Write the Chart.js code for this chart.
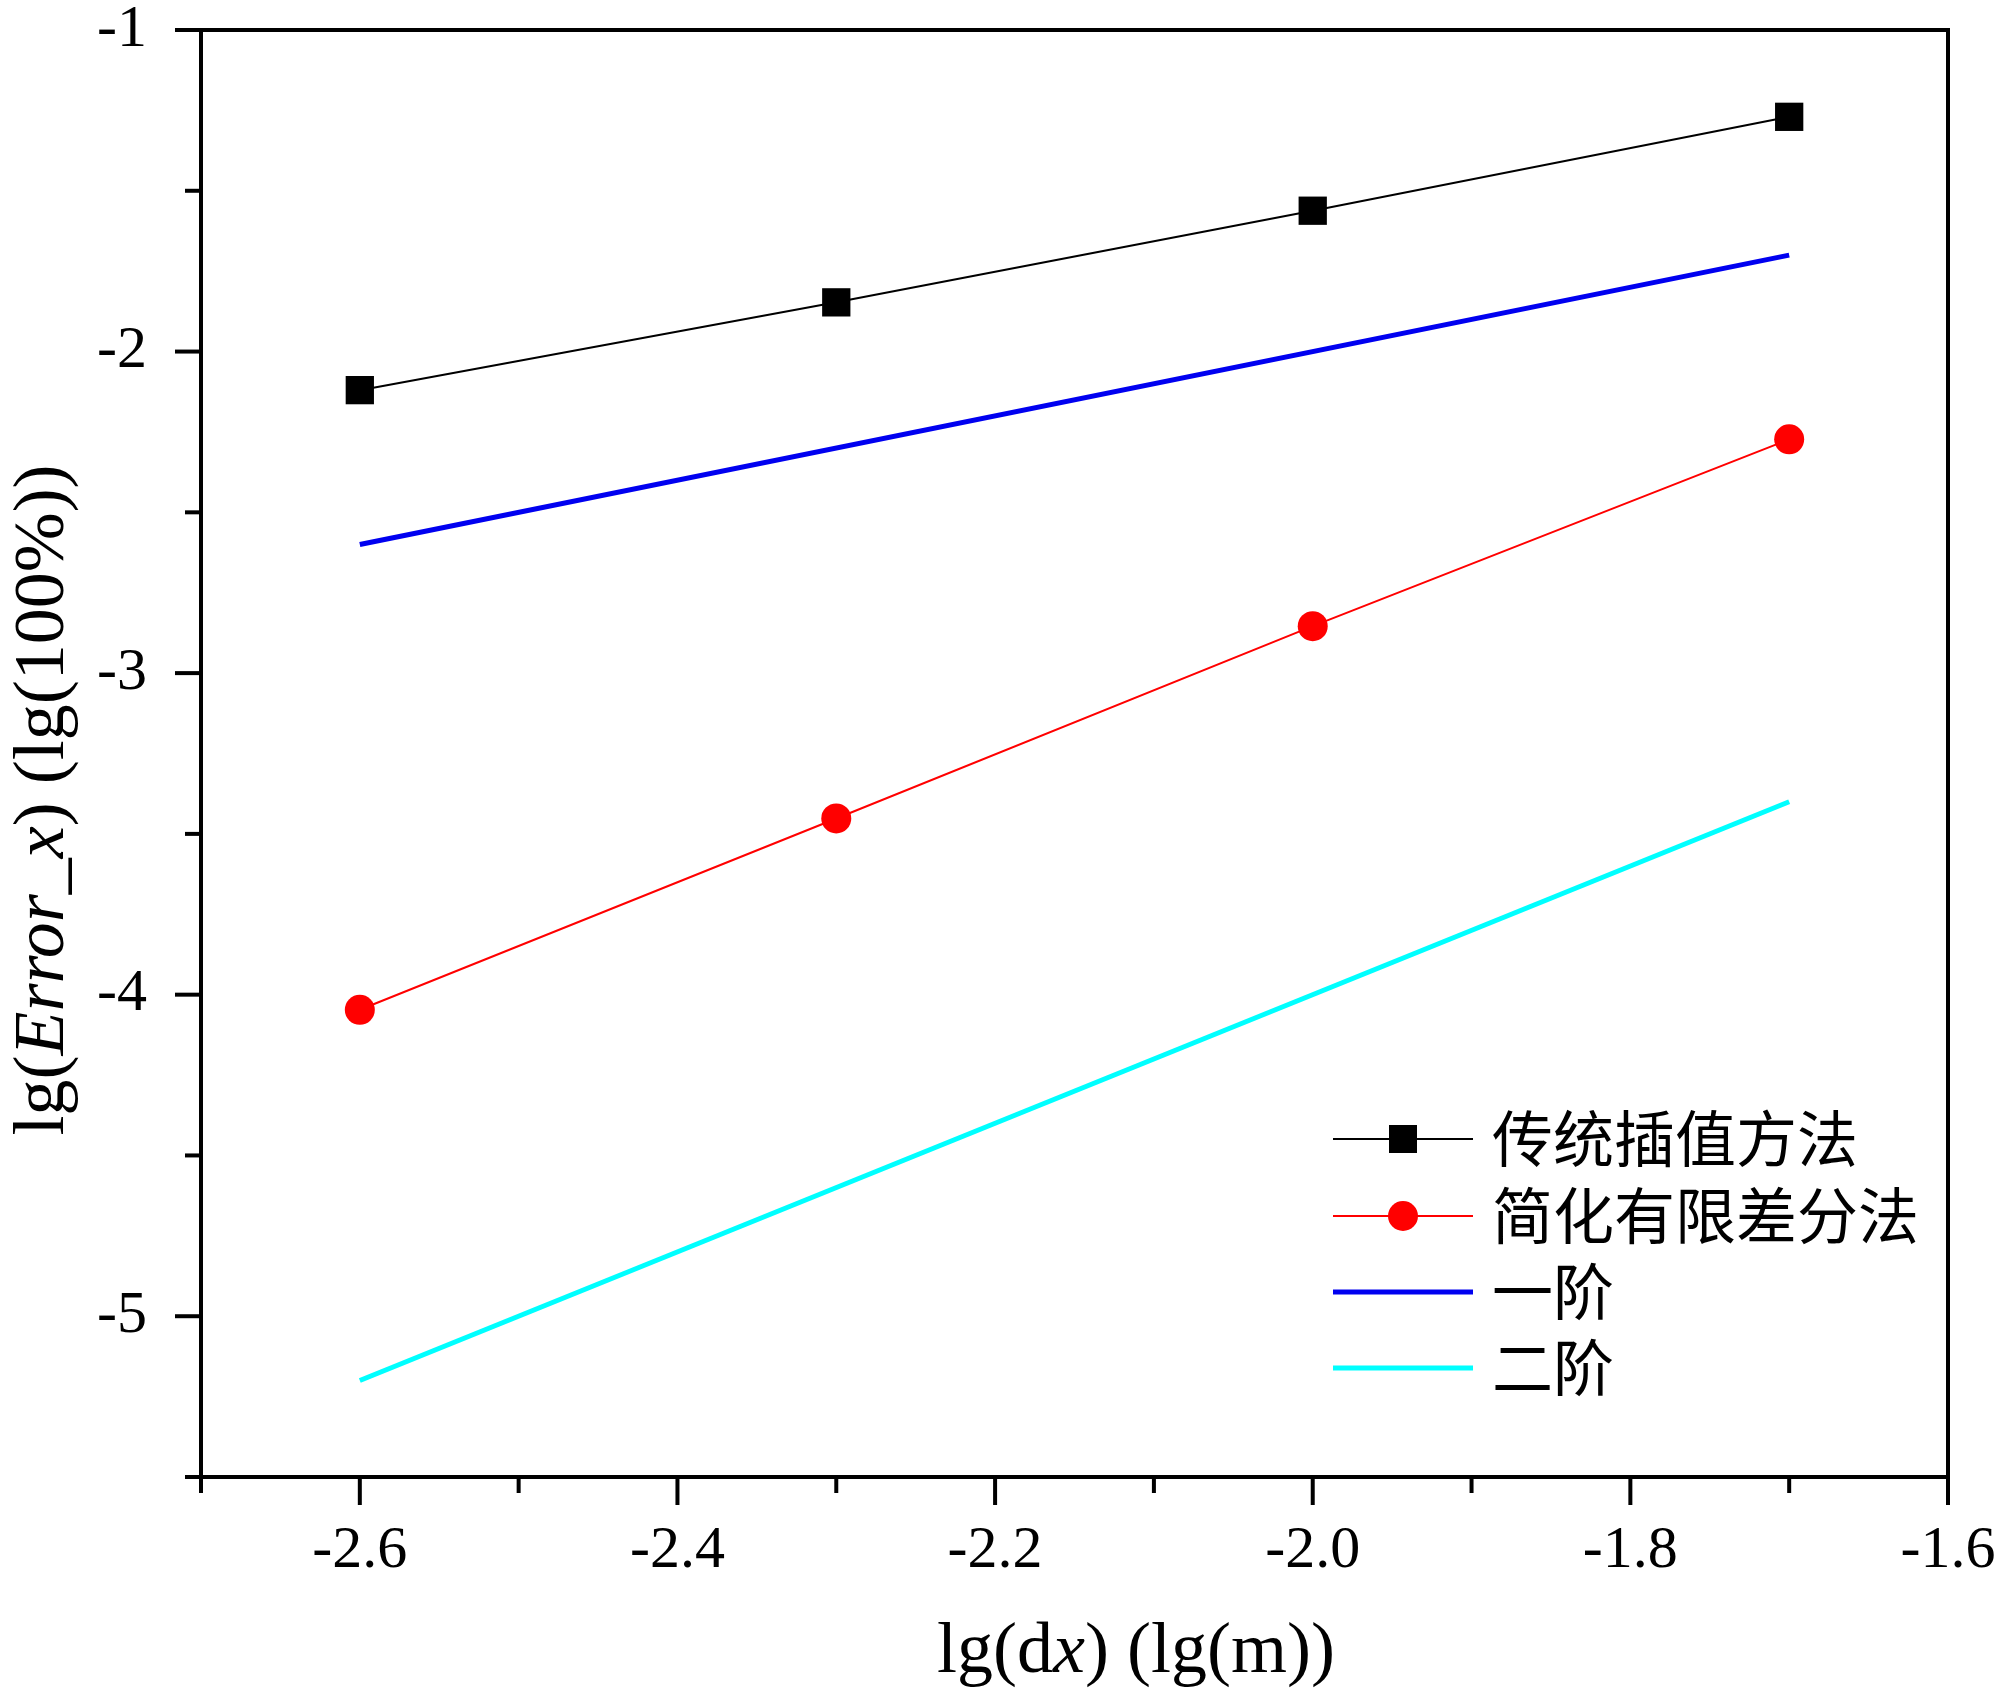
<!DOCTYPE html>
<html>
<head>
<meta charset="utf-8">
<script src="https://cdn.jsdelivr.net/npm/chart.js@4.4.1/dist/chart.umd.min.js"></script>
<style>
  html, body { margin: 0; padding: 0; background: #fff; }
  #wrap { width: 2000px; height: 1693px; }
</style>
</head>
<body>
<div id="wrap"><canvas id="c" width="2000" height="1693"></canvas></div>
<script>
// lg(dx) 取值
const xPoints = [-2.6, -2.3, -2.0, -1.7];
// 传统插值方法 / 简化有限差分法
const traditional = [-2.12, -1.847, -1.562, -1.27];
const simplifiedFD = [-4.047, -3.452, -2.854, -2.273];
// 参考斜率线 (一阶 / 二阶)
const refX = [-2.6, -1.7];
const firstOrder = [-2.6, -1.7];
const secondOrder = [-5.2, -3.4];

const legendLabels = ['传统插值方法', '简化有限差分法', '一阶', '二阶'];

const SERIF = '"Liberation Serif", "Times New Roman", serif';
const CJK = '"Noto Sans CJK SC", sans-serif';

const pts = (xs, ys) => xs.map((x, i) => ({x, y: ys[i]}));

// 不让刻度标签额外挤压绘图区
function noPad(s) {
  s.paddingTop = 0; s.paddingBottom = 0; s.paddingLeft = 0; s.paddingRight = 0;
}

// 外框 + 刻度线（主刻度长、次刻度短）
const frameTicks = {
  id: 'frameTicks',
  afterDraw(chart) {
    const {ctx, chartArea: a, scales: {x, y}} = chart;
    ctx.save();
    ctx.strokeStyle = '#000';
    ctx.lineWidth = 4;
    ctx.lineCap = 'square';
    ctx.strokeRect(a.left, a.top, a.right - a.left, a.bottom - a.top);
    x.ticks.forEach(t => {
      const px = x.getPixelForValue(t.value);
      const major = Math.round(t.value * 10) % 2 === 0;
      ctx.beginPath();
      ctx.moveTo(px, a.bottom);
      ctx.lineTo(px, a.bottom + (major ? 26 : 14));
      ctx.stroke();
    });
    y.ticks.forEach(t => {
      const py = y.getPixelForValue(t.value);
      const major = Math.abs(t.value - Math.round(t.value)) < 1e-6;
      ctx.beginPath();
      ctx.moveTo(a.left, py);
      ctx.lineTo(a.left - (major ? 24 : 14), py);
      ctx.stroke();
    });
    ctx.restore();
  }
};

function drawRich(ctx, parts, cx, cy, rotate) {
  ctx.save();
  ctx.translate(cx, cy);
  if (rotate) ctx.rotate(-Math.PI / 2);
  ctx.fillStyle = '#000';
  ctx.textBaseline = 'alphabetic';
  let total = 0;
  parts.forEach(p => { ctx.font = p.font; total += ctx.measureText(p.text).width; });
  let pos = -total / 2;
  parts.forEach(p => {
    ctx.font = p.font;
    ctx.fillText(p.text, pos, 0);
    pos += ctx.measureText(p.text).width;
  });
  ctx.restore();
}

// 轴标题（含斜体部分）
const axisTitles = {
  id: 'axisTitles',
  afterDraw(chart) {
    const ctx = chart.ctx;
    const n = '72px ' + SERIF, it = 'italic 72px ' + SERIF;
    drawRich(ctx, [
      {text: 'lg(d', font: n}, {text: 'x', font: it}, {text: ') (lg(m))', font: n}
    ], 1136, 1672, false);
    drawRich(ctx, [
      {text: 'lg(', font: n}, {text: 'Error', font: it}, {text: '_', font: n},
      {text: 'x', font: it}, {text: ') (lg(100%))', font: n}
    ], 63, 800, true);
  }
};

// 图例
const legendBox = {
  id: 'legendBox',
  afterDraw(chart) {
    const ctx = chart.ctx;
    const rows = [1139, 1216, 1292, 1368];
    chart.data.datasets.forEach((ds, i) => {
      const yy = rows[i];
      ctx.save();
      ctx.strokeStyle = ds.borderColor;
      ctx.lineWidth = ds.borderWidth;
      ctx.beginPath();
      ctx.moveTo(1333, yy);
      ctx.lineTo(1473, yy);
      ctx.stroke();
      ctx.fillStyle = ds.borderColor;
      if (ds.pointStyle === 'rect') {
        ctx.fillRect(1403 - 14, yy - 14, 28, 28);
      } else if (ds.pointRadius > 0) {
        ctx.beginPath();
        ctx.arc(1403, yy, 15, 0, Math.PI * 2);
        ctx.fill();
      }
      ctx.fillStyle = '#000';
      ctx.font = '61px ' + CJK;
      ctx.textBaseline = 'middle';
      ctx.fillText(legendLabels[i], 1492, yy);
      ctx.restore();
    });
  }
};

new Chart(document.getElementById('c'), {
  type: 'line',
  data: {
    datasets: [
      {data: pts(xPoints, traditional), borderColor: '#000000', backgroundColor: '#000000',
       borderWidth: 2, pointStyle: 'rect', pointRadius: 20, pointBorderWidth: 0},
      {data: pts(xPoints, simplifiedFD), borderColor: '#ff0000', backgroundColor: '#ff0000',
       borderWidth: 2, pointStyle: 'circle', pointRadius: 15, pointBorderWidth: 0},
      {data: pts(refX, firstOrder), borderColor: '#0000f0', borderWidth: 5, pointRadius: 0},
      {data: pts(refX, secondOrder), borderColor: '#00ffff', borderWidth: 5, pointRadius: 0}
    ]
  },
  options: {
    responsive: false,
    devicePixelRatio: 1,
    animation: false,
    layout: {padding: {top: 30, right: 52, left: 0, bottom: 0}},
    plugins: {legend: {display: false}, tooltip: {enabled: false}},
    scales: {
      x: {
        type: 'linear', min: -2.7, max: -1.6,
        grid: {display: false}, border: {display: false},
        afterFit: s => { s.height = 216; noPad(s); },
        ticks: {
          stepSize: 0.1, autoSkip: false, maxRotation: 0, padding: 36,
          color: '#000', font: {family: SERIF, size: 60, lineHeight: 1},
          callback: v => Math.round(v * 10) % 2 === 0 ? v.toFixed(1) : ''
        }
      },
      y: {
        min: -5.5, max: -1,
        grid: {display: false}, border: {display: false},
        afterFit: s => { s.width = 201; noPad(s); },
        ticks: {
          stepSize: 0.5, autoSkip: false, padding: 46,
          color: '#000', font: {family: SERIF, size: 60, lineHeight: 1},
          callback: v => Math.abs(v - Math.round(v)) < 1e-6 ? String(Math.round(v)) : ''
        }
      }
    }
  },
  plugins: [frameTicks, axisTitles, legendBox]
});
</script>
</body>
</html>
